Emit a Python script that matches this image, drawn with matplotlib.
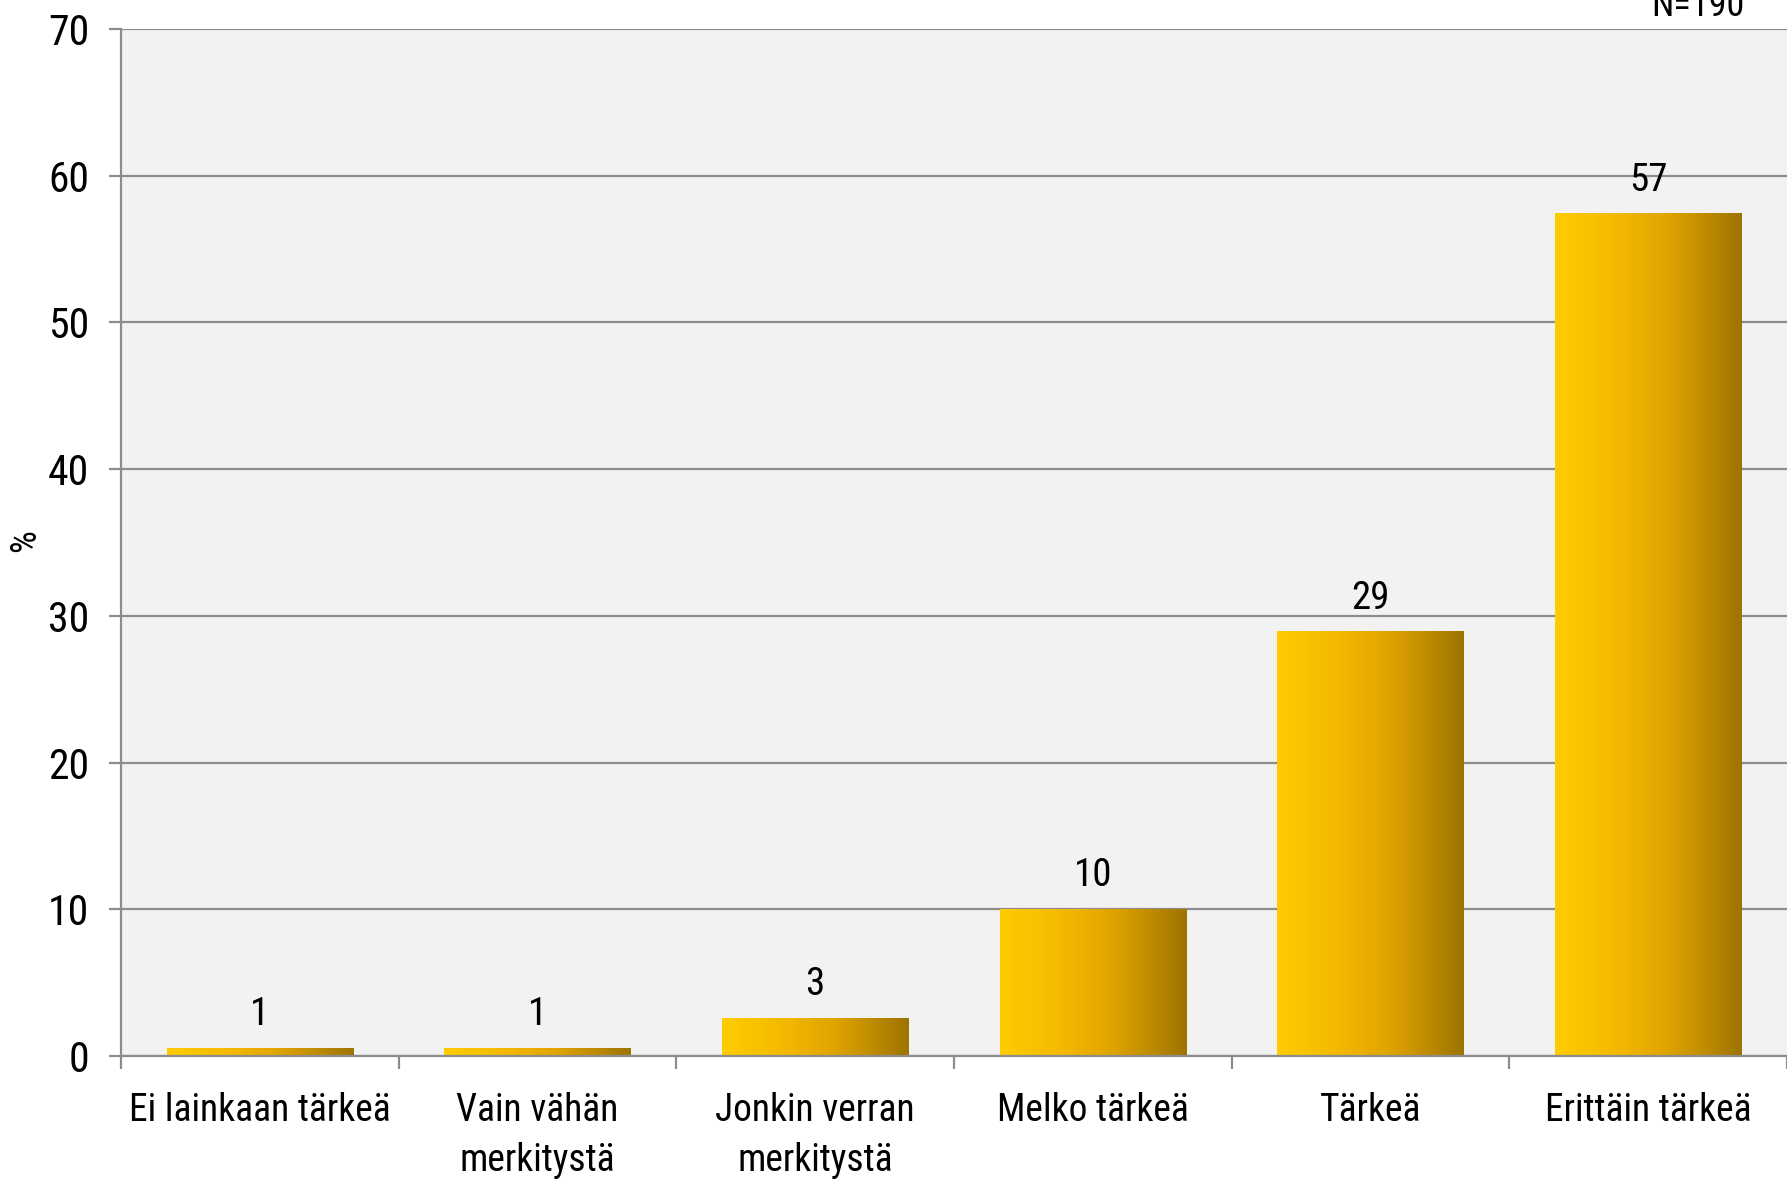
import matplotlib
matplotlib.use("Agg")
import matplotlib.pyplot as plt
import numpy as np
from matplotlib.colors import LinearSegmentedColormap
from matplotlib import font_manager
from matplotlib.font_manager import FontProperties

categories = ["Ei lainkaan tärkeä", "Vain vähän\nmerkitystä", "Jonkin verran\nmerkitystä",
              "Melko tärkeä", "Tärkeä", "Erittäin tärkeä"]
values = [0.53, 0.53, 2.55, 10.0, 28.9, 57.4]
labels = ["1", "1", "3", "10", "29", "57"]
yticks = [0, 10, 20, 30, 40, 50, 60, 70]

# pick a narrow / condensed font file if one exists
fpath = None
files = [f.fname for f in font_manager.fontManager.ttflist]
prefs = ["LiberationSansNarrow-Regular", "RobotoCondensed-Regular", "Roboto_Condensed-Regular",
         "OpenSans_Condensed-Regular", "DejaVuSansCondensed.ttf"]
for p in prefs:
    for f in files:
        if p in f.replace(" ", ""):
            fpath = f
            break
    if fpath:
        break
if fpath is None:
    for f in files:
        if ("Condensed" in f or "Narrow" in f) and "Bold" not in f and "Italic" not in f and "Oblique" not in f:
            fpath = f
            break


def fp(size):
    if fpath:
        return FontProperties(fname=fpath, size=size)
    return FontProperties(family="DejaVu Sans", stretch="condensed", size=size)


W, H = 1787, 1181
fig = plt.figure(figsize=(W / 100, H / 100), dpi=100)
fig.patch.set_facecolor("white")
ax = fig.add_axes([121 / W, (H - 1056) / H, (W - 121) / W, (1056 - 29) / H])
ax.set_facecolor("#F2F2F2")

gray = "#8C8C8C"
x = np.arange(len(categories))
bars = ax.bar(x, values, width=0.67, color="none", edgecolor="none", zorder=3)

cmap = LinearSegmentedColormap.from_list(
    "gold", [(0.0, "#FFCC00"), (0.35, "#F2B800"), (0.6, "#E0A400"), (0.8, "#C08C00"), (1.0, "#9C7400")])
grad = np.linspace(0, 1, 256).reshape(1, -1)
for b in bars:
    x0, w, h = b.get_x(), b.get_width(), b.get_height()
    ax.imshow(grad, cmap=cmap, aspect="auto", extent=[x0, x0 + w, 0, h], zorder=3, interpolation="bilinear")

for b, lab in zip(bars, labels):
    ax.annotate(lab, (b.get_x() + b.get_width() / 2, b.get_height()), xytext=(0, 11),
                textcoords="offset points", ha="center", va="bottom", fontproperties=fp(28),
                color="black", zorder=5)

ax.set_xlim(-0.5, len(categories) - 0.5)
ax.set_ylim(0, 70)
ax.set_yticks(yticks)
ax.set_yticklabels([str(t) for t in yticks], fontproperties=fp(30))
ax.yaxis.grid(True, color=gray, linewidth=1.6, zorder=1)
ax.set_axisbelow(True)

ax.set_xticks(np.arange(-0.5, len(categories), 1.0))
ax.set_xticklabels([])
ax.set_xticks(x, minor=True)
ax.set_xticklabels(categories, minor=True, fontproperties=fp(27), linespacing=1.45)
ax.tick_params(axis="x", which="minor", length=0, pad=26)
ax.tick_params(axis="x", which="major", length=9, width=1.6, color=gray, direction="out")
ax.tick_params(axis="y", length=9, width=1.6, color=gray, direction="out", pad=14)

for s in ["top", "right"]:
    ax.spines[s].set_visible(False)
for s in ["left", "bottom"]:
    ax.spines[s].set_color(gray)
    ax.spines[s].set_linewidth(1.6)
ax.spines["bottom"].set_zorder(4)

fig.text(25 / W, 1 - 541 / H, "%", rotation=90, ha="center", va="center", fontproperties=fp(26))
fig.text(1698 / W, 1 - 16 / H, "N=190", ha="center", va="baseline", fontproperties=fp(26))

fig.savefig("out.png", dpi=100)
